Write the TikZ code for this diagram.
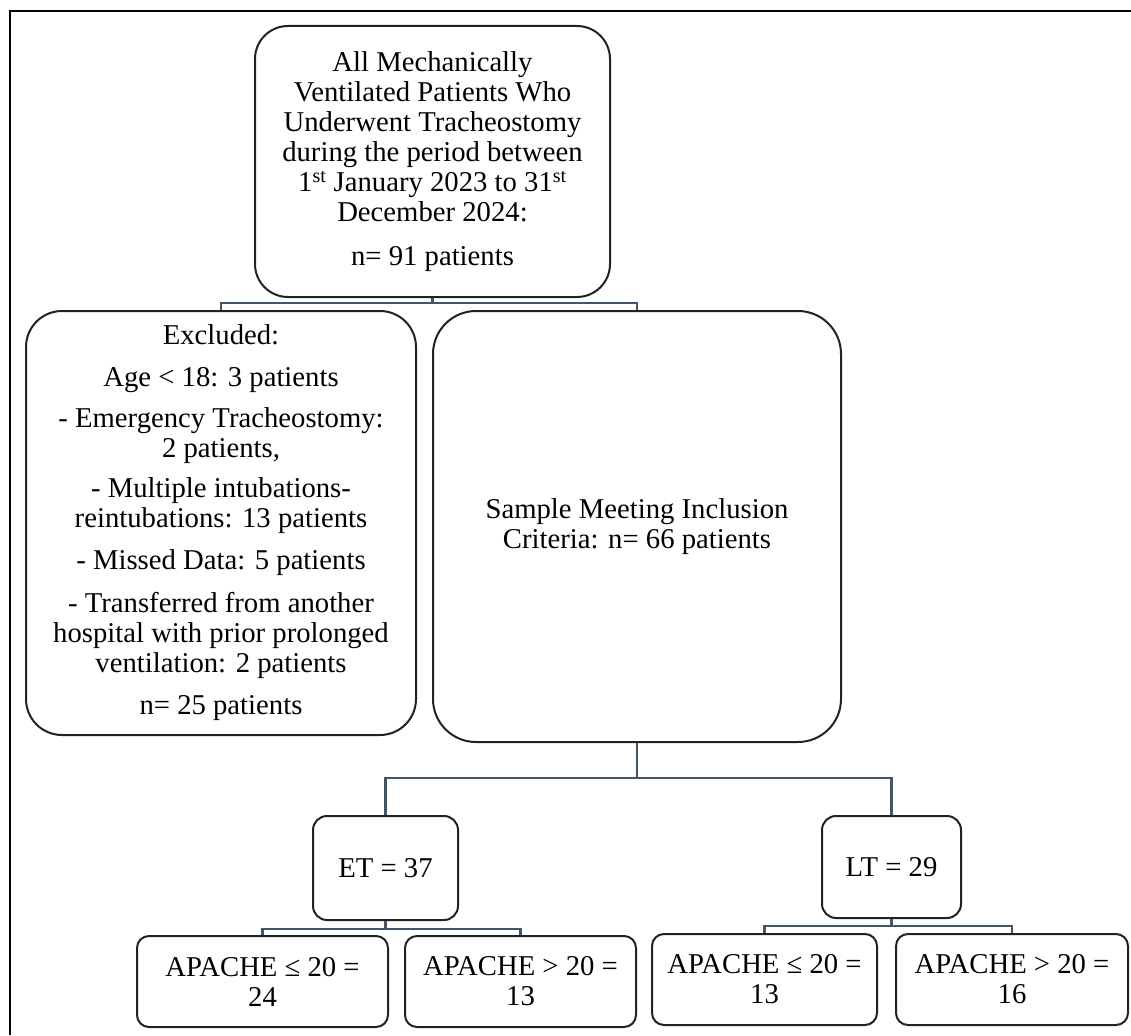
\documentclass[tikz,border=0pt]{standalone}
\usepackage{fontspec}
\setmainfont{Liberation Serif}
\definecolor{boxc}{HTML}{222222}
\definecolor{connc}{HTML}{44546A}
\begin{document}
\begin{tikzpicture}[x=1pt,y=-1pt,
  box/.style={draw=boxc, line width=2pt, align=center, inner sep=0pt,
    font=\fontsize{28.7}{30}\selectfont},
  conn/.style={draw=connc, line width=2.2pt}]
\useasboundingbox (0,0) rectangle (1131,1035);
\draw[line width=2pt] (10,1035) -- (10,11) -- (1131,11);

\node[box, minimum width=355pt, minimum height=271pt, rounded corners=33pt] (top) at (432.5,161.5)
  {All Mechanically\\Ventilated Patients Who\\Underwent Tracheostomy\\during the period between\\1\textsuperscript{st} January 2023 to 31\textsuperscript{st}\\December 2024:\\[14pt]n= 91 patients};

\node[box, minimum width=390pt, minimum height=424pt, rounded corners=36pt] (excl) at (221,523)
  {Excluded:\\[12pt]Age < 18: 3 patients\\[11pt]- Emergency Tracheostomy:\\2 patients,\\[10pt]- Multiple intubations-\\reintubations: 13 patients\\[12pt]- Missed Data: 5 patients\\[13pt]- Transferred from another\\hospital with prior prolonged\\ventilation: 2 patients\\[12pt]n= 25 patients};

\node[box, minimum width=408pt, minimum height=431pt, rounded corners=43pt] (sample) at (637,526.5)
  {Sample Meeting Inclusion\\Criteria: n= 66 patients};

\node[box, minimum width=145pt, minimum height=104pt, rounded corners=14pt] (et) at (385.5,868) {ET = 37};
\node[box, minimum width=139pt, minimum height=102pt, rounded corners=14pt] (lt) at (891.5,867) {LT = 29};

\node[box, minimum width=251pt, minimum height=91pt, rounded corners=12pt] (b1) at (262.5,981.5) {APACHE ≤ 20 =\\24};
\node[box, minimum width=231pt, minimum height=91pt, rounded corners=12pt] (b2) at (520.5,981.5) {APACHE > 20 =\\13};
\node[box, minimum width=225pt, minimum height=91pt, rounded corners=12pt] (b3) at (764.5,979.5) {APACHE ≤ 20 =\\13};
\node[box, minimum width=232pt, minimum height=91pt, rounded corners=12pt] (b4) at (1012,979.5) {APACHE > 20 =\\16};

\coordinate (j1) at (432.5,303);
\coordinate (j2) at (637,778);
\coordinate (j3) at (385.5,929);
\coordinate (j4) at (891.5,926);

\draw[conn] (top.south) -- (j1);
\draw[conn] (excl.north) |- (j1) -| (sample.north);
\draw[conn] (sample.south) -- (j2);
\draw[conn] (et.north) |- (j2) -| (lt.north);
\draw[conn] (et.south) -- (j3);
\draw[conn] (b1.north) |- (j3) -| (b2.north);
\draw[conn] (lt.south) -- (j4);
\draw[conn] (b3.north) |- (j4) -| (b4.north);
\end{tikzpicture}
\end{document}
